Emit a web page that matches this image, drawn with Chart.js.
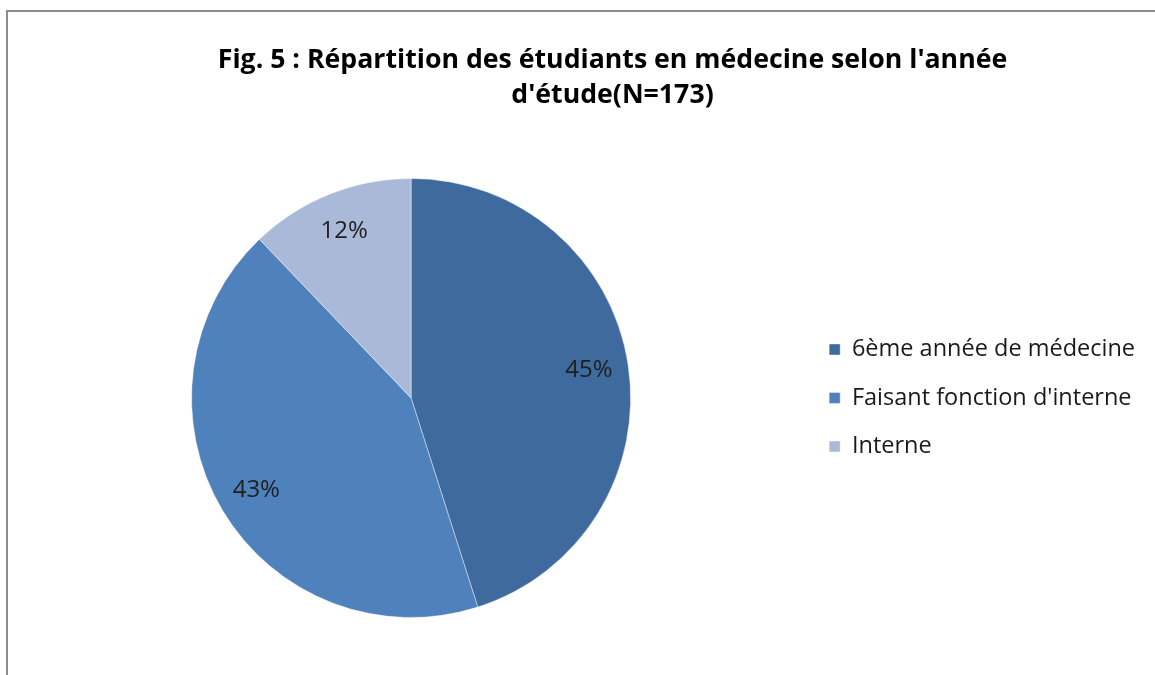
<!DOCTYPE html>
<html>
<head>
<meta charset="utf-8">
<script src="https://cdn.jsdelivr.net/npm/chart.js@4.4.1/dist/chart.umd.min.js"></script>
<style>
  html, body { margin: 0; padding: 0; background: #ffffff; overflow: hidden; }
  #wrap { position: relative; width: 1155px; height: 675px; }
  #frame { position: absolute; left: 6px; top: 10px; width: 1200px; height: 700px;
           border-top: 2px solid #8c8c8c; border-left: 2px solid #8c8c8c; box-sizing: border-box; }
  canvas { position: absolute; left: 0; top: 0; }
</style>
</head>
<body>
<div id="wrap">
  <div id="frame"></div>
  <canvas id="c" width="1155" height="675"></canvas>
</div>
<script>
const categories = ['6ème année de médecine', "Faisant fonction d'interne", 'Interne'];
const counts = [78, 74, 21];
const sliceColors = ['#3E6A9E', '#4F81BD', '#AAB9D8'];
const titleLines = ["Fig. 5 : Répartition des étudiants en médecine selon l'année", "d'étude(N=173)"];

const pctLabels = {
  id: 'pctLabels',
  afterDatasetsDraw(chart) {
    const ctx = chart.ctx;
    const meta = chart.getDatasetMeta(0);
    const data = chart.data.datasets[0].data;
    const total = data.reduce((a, b) => a + b, 0);
    ctx.save();
    ctx.font = '24px "Open Sans"';
    ctx.fillStyle = '#1f1f1f';
    ctx.textAlign = 'center';
    ctx.textBaseline = 'middle';
    meta.data.forEach((arc, i) => {
      const p = arc.getProps(['x', 'y', 'startAngle', 'endAngle', 'outerRadius'], true);
      const mid = (p.startAngle + p.endAngle) / 2;
      const r = p.outerRadius * 0.82;
      const txt = Math.round(data[i] / total * 100) + '%';
      ctx.fillText(txt, p.x + Math.cos(mid) * r, p.y + Math.sin(mid) * r);
    });
    ctx.restore();
  }
};

const titleShift = {
  id: 'titleShift',
  afterLayout(chart, args, opts) {
    const t = chart.titleBlock;
    if (t) { t.left += opts.dx; t.right += opts.dx; }
  }
};

new Chart(document.getElementById('c'), {
  type: 'pie',
  data: {
    labels: categories,
    datasets: [{
      data: counts,
      backgroundColor: sliceColors,
      borderColor: 'rgba(255,255,255,0.4)',
      borderWidth: 1
    }]
  },
  plugins: [pctLabels, titleShift],
  options: {
    responsive: false,
    animation: false,
    layout: { padding: { left: 18, right: 10, top: 30, bottom: 57 } },
    plugins: {
      titleShift: { dx: 31 },
      title: {
        display: true,
        text: titleLines,
        color: '#000000',
        font: { family: 'Open Sans', size: 26.7, weight: 'bold', lineHeight: 1.31 },
        padding: { top: 12.5, bottom: 65.5 }
      },
      legend: {
        position: 'right',
        fullSize: false,
        labels: {
          boxWidth: 11,
          boxHeight: 11,
          padding: 25,
          color: '#1a1a1a',
          font: { family: 'Open Sans', size: 23.5 }
        }
      },
      tooltip: { enabled: false }
    }
  }
});
</script>
</body>
</html>
